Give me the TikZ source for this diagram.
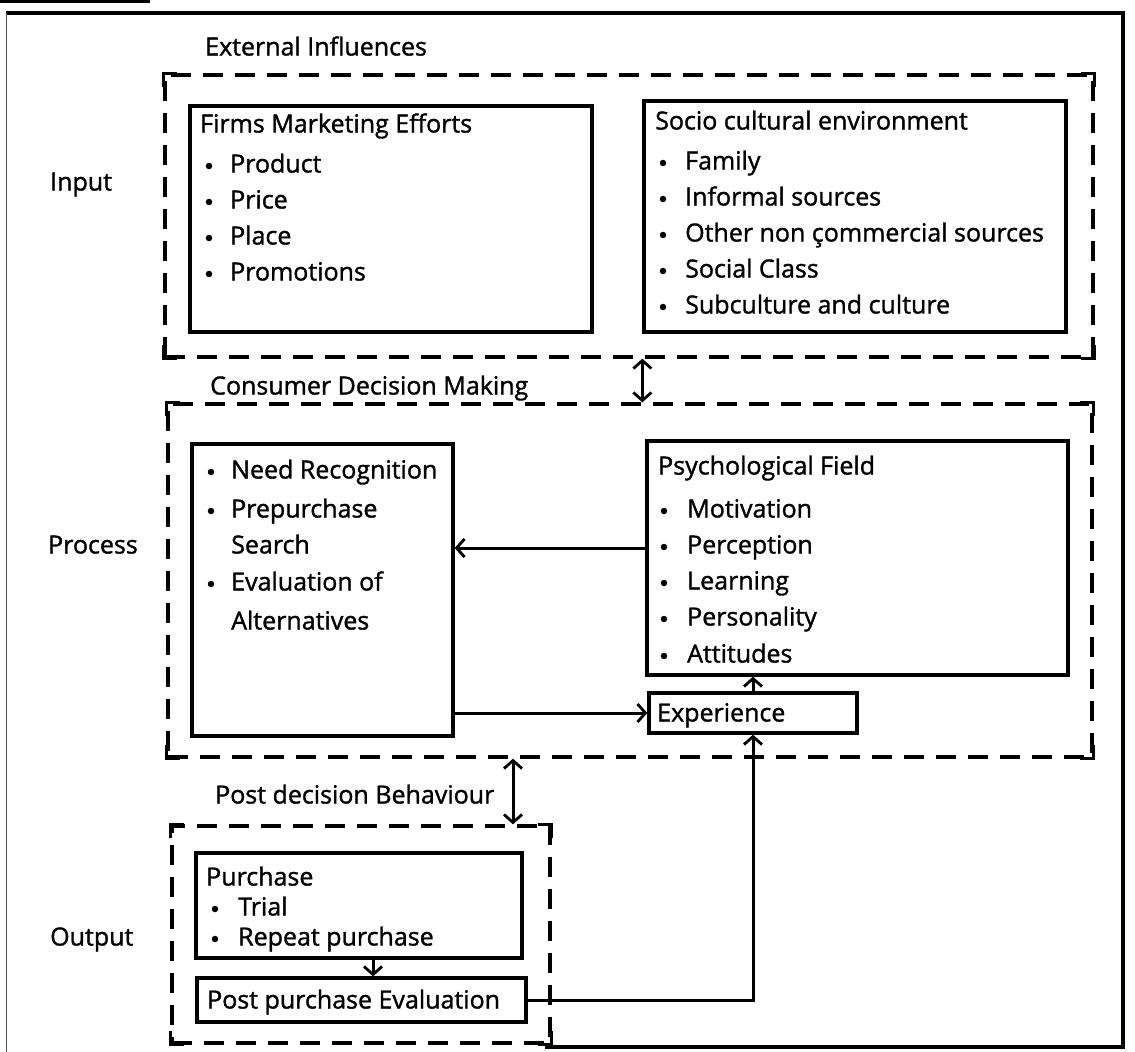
\documentclass[tikz,border=0pt]{standalone}
\usepackage{fontspec}
\setmainfont{Open Sans}[FakeBold=1.3]
\usetikzlibrary{arrows.meta,fit}

% a bulleted line: bullet centre x, text x, line centre y
\newcommand{\bline}[5]{%
  \node[bul] (#1b) at (#2,#4+2) {};
  \node[lbl] (#1) at (#3,#4) {#5};}

\begin{document}
\begin{tikzpicture}[x=1pt,y=-1pt,
  box/.style={draw, line width=3.3pt, inner sep=0pt},
  group/.style={draw, line width=3.3pt, dash pattern=on 20pt off 12pt, inner sep=0pt},
  corner/.style={line width=3.3pt},
  lbl/.style={anchor=west, inner sep=0pt, text height=17pt, text depth=0pt,
              font=\fontsize{25}{30}\selectfont},
  bul/.style={circle, fill, inner sep=0pt, minimum size=6.5pt},
  barb/.tip={Straight Barb[length=8pt,width=18pt,line width=2.8pt]},
  conn/.style={line width=3pt, -barb},
  both/.style={line width=3pt, barb-barb},
  frame/.style={line width=3.3pt}]

% page area and scanned page frame
\fill[white] (0,0) rectangle (1135,1052);
\useasboundingbox (0,0) rectangle (1135,1052);
\draw[line width=4pt] (0,1) -- (150,1);
\draw[frame] (6,13) -- (1123,13) -- (1123,1047) -- (545,1047);
\draw[line width=1pt, black!70] (6,13) -- (6,1052);

% row labels
\node[lbl] (input) at (50,182) {Input};
\node[lbl] (process) at (48,545) {Process};
\node[lbl] (output) at (50,937) {Output};

% ---------- External influences ----------
\node[lbl] (exth) at (205,47) {External Influences};
\node[group, fit={(165,75) (1093,357)}] (ext) {};

\node[box, fit={(190,106) (592,332)}] (firms) {};
\node[lbl] (firmsT) at (200,124) {Firms Marketing Efforts};
\bline{f1}{209}{230}{164}{Product}
\bline{f2}{209}{230}{200}{Price}
\bline{f3}{209}{230}{236}{Place}
\bline{f4}{209}{230}{272}{Promotions}

\node[box, fit={(644,101) (1066,332)}] (socio) {};
\node[lbl] (socioT) at (655,121) {Socio cultural environment};
\bline{s1}{663}{685}{161}{Family}
\bline{s2}{663}{685}{197}{Informal sources}
\bline{s3}{663}{685}{233}{Other non çommercial sources}
\bline{s4}{663}{685}{269}{Social Class}
\bline{s5}{663}{685}{305}{Subculture and culture}

% ---------- Consumer decision making ----------
\node[lbl] (cdmh) at (210,386) {Consumer Decision Making};
\node[group, fit={(168,404) (1092,757)}] (cdm) {};

\node[box, fit={(192,444) (453,736)}] (need) {};
\bline{n1}{211}{231}{470}{Need Recognition}
\bline{n2}{211}{231}{509}{Prepurchase}
\node[lbl] (n3) at (231,545) {Search};
\bline{n4}{211}{231}{582}{Evaluation of}
\node[lbl] (n5) at (231,621) {Alternatives};

\node[box, fit={(647,441) (1068,675)}] (psych) {};
\node[lbl] (psychT) at (658,466) {Psychological Field};
\bline{p1}{664}{687}{509}{Motivation}
\bline{p2}{664}{687}{545}{Perception}
\bline{p3}{664}{687}{581}{Learning}
\bline{p4}{664}{687}{617}{Personality}
\bline{p5}{664}{687}{654}{Attitudes}

\node[box, fit={(649,693) (857,733)}] (exp) {};
\node[lbl] (expT) at (657,713) {Experience};

% ---------- Post decision behaviour ----------
\node[lbl] (pdbh) at (215,795) {Post decision Behaviour};
\node[group, fit={(172,826) (550,1043)}] (pdb) {};

\node[box, fit={(196,853) (522,958)}] (purch) {};
\node[lbl] (purchT) at (206,877) {Purchase};
\bline{u1}{215}{238}{907}{Trial}
\bline{u2}{215}{238}{937}{Repeat purchase}

\node[box, fit={(197,978) (526,1022)}] (ppe) {};
\node[lbl] (ppeT) at (207,1000) {Post purchase Evaluation};

% solid corners of the dashed groups
\foreach \g in {ext,cdm,pdb}{
  \draw[corner] ([yshift=-14pt]\g.north west) -- (\g.north west) -- ([xshift=14pt]\g.north west);
  \draw[corner] ([xshift=-14pt]\g.north east) -- (\g.north east) -- ([yshift=-14pt]\g.north east);
  \draw[corner] ([yshift=14pt]\g.south west) -- (\g.south west) -- ([xshift=14pt]\g.south west);
  \draw[corner] ([xshift=-14pt]\g.south east) -- (\g.south east) -- ([yshift=14pt]\g.south east);
}

% connectors
\coordinate (a2) at (513,0);
\coordinate (a3) at (373,0);
\draw[both] (ext.south -| socio.west) -- (cdm.north -| socio.west);
\draw[both] (cdm.south -| a2) -- (pdb.north -| a2);
\draw[conn] ([yshift=10pt]psych.west) -- ([yshift=10pt]psych.west -| need.east);
\draw[conn] (exp.west -| need.east) -- (exp.west);
\draw[conn] (exp.north) -- (exp.north |- psych.south);
\draw[conn] (purch.south -| a3) -- (ppe.north -| a3);
\draw[conn] (ppe.east) -- (ppe.east -| exp.south) -- (exp.south);
\end{tikzpicture}
\end{document}
